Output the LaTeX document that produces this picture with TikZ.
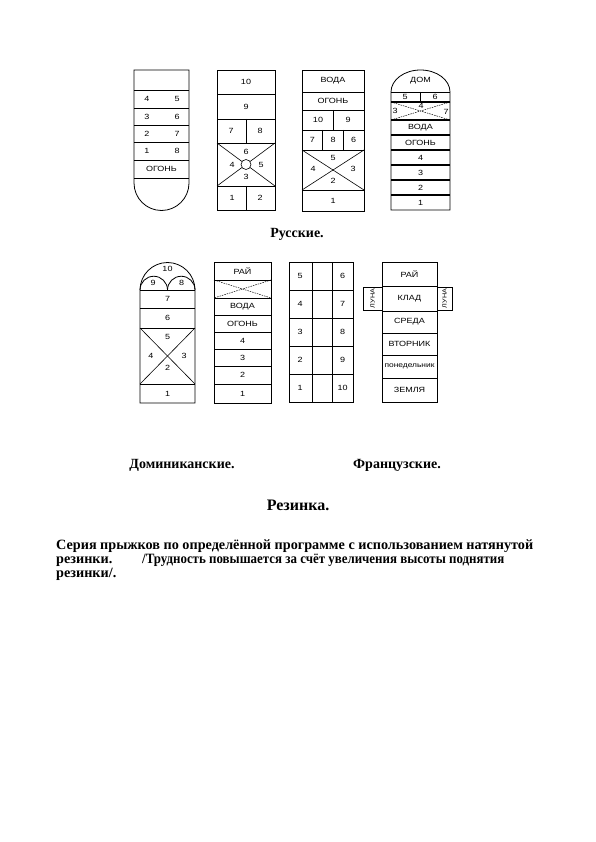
\documentclass[tikz,border=0pt]{standalone}
\usepackage{fontspec}
\setmainfont{Liberation Serif}
\newfontfamily\cellfont[FakeStretch=1.2]{Liberation Sans}
\begin{document}
\begin{tikzpicture}[x=1pt,y=-1pt,
  lab/.style={font=\cellfont\fontsize{7.5}{8}\selectfont, inner sep=0pt},
  tiny/.style={font=\cellfont\fontsize{6}{6}\selectfont, inner sep=0pt},
  ttl/.style={font=\bfseries\fontsize{14}{16}\selectfont, inner sep=0pt},
  para/.style={font=\bfseries\fontsize{14.2}{16}\selectfont, inner sep=0pt, anchor=base west},
  grid/.style={line width=0.8pt},
  thick grid/.style={line width=1.3pt},
  dashx/.style={line width=0.5pt, dash pattern=on 1.5pt off 1pt}]
\useasboundingbox (0,0) rectangle (595,842);

% ---------- Diagram 1 ----------
\draw[grid] (134,70) -- (189,70) -- (189,183) arc[start angle=0, end angle=180, radius=27.5] -- cycle;
\foreach \y in {90,108,125,142,160,178} \draw[grid] (134,\y) -- (189,\y);
\node[lab] (a45) at (147,99) {4};  \node[lab] (a5) at (177,99) {5};
\node[lab] (a3) at (147,116.5) {3}; \node[lab] (a6) at (177,116.5) {6};
\node[lab] (a2) at (147,133.5) {2}; \node[lab] (a7) at (177,133.5) {7};
\node[lab] (a1) at (147,151) {1};   \node[lab] (a8) at (177,151) {8};
\node[lab] (aog) at (161.5,169) {ОГОНЬ};

% ---------- Diagram 2 ----------
\draw[grid] (217,70) rectangle (275,210);
\foreach \y in {94,119,143,186} \draw[grid] (217,\y) -- (275,\y);
\draw[grid] (246,119) -- (246,143);
\draw[grid] (246,186) -- (246,210);
\draw[line width=0.6pt] (217,143) -- (275,186);
\draw[line width=0.6pt] (275,143) -- (217,186);
\draw[line width=0.6pt, fill=white] (246,164.5) circle[radius=5];
\node[lab] (b10) at (246,82) {10};
\node[lab] (b9) at (246,106.5) {9};
\node[lab] (b7) at (231,131) {7};
\node[lab] (b8) at (260,131) {8};
\node[lab] (b6) at (246,152) {6};
\node[lab] (b4) at (232,165) {4};
\node[lab] (b5) at (261,165) {5};
\node[lab] (b3) at (246,177) {3};
\node[lab] (b1) at (232,198) {1};
\node[lab] (b2) at (260,198) {2};

% ---------- Diagram 3 ----------
\draw[grid] (302,70) rectangle (364,211);
\foreach \y in {92,110,130,150,190} \draw[grid] (302,\y) -- (364,\y);
\draw[grid] (333,110) -- (333,130);
\draw[grid] (322.7,130) -- (322.7,150);
\draw[grid] (343.3,130) -- (343.3,150);
\draw[line width=0.6pt] (302,150) -- (364,190);
\draw[line width=0.6pt] (364,150) -- (302,190);
\node[lab] (cv) at (333,81) {ВОДА};
\node[lab] (co) at (333,100.5) {ОГОНЬ};
\node[lab] (c10) at (318,120) {10};
\node[lab] (c9) at (348,120) {9};
\node[lab] (c7) at (312.3,140) {7};
\node[lab] (c8) at (333,140) {8};
\node[lab] (c6) at (353.6,140) {6};
\node[lab] (c5) at (333,158) {5};
\node[lab] (c4) at (313,169) {4};
\node[lab] (c3) at (353,169) {3};
\node[lab] (c2) at (333,180.5) {2};
\node[lab] (c1) at (333,200.5) {1};

% ---------- Diagram 4 ----------
\draw[grid] (391,92) arc[start angle=180, end angle=360, x radius=29.5, y radius=22] -- (450,210) -- (391,210) -- cycle;
\draw[grid] (391,92) -- (450,92);
\foreach \y in {102,120,135,150,165,180,195} \draw[thick grid] (391,\y) -- (450,\y);
\draw[grid] (420,92) -- (420,102);
\draw[dashx] (391,102) -- (450,120);
\draw[dashx] (450,102) -- (391,120);
\node[lab] (dd) at (420.5,81) {ДОМ};
\node[lab] (d5) at (405,97) {5};
\node[lab] (d6) at (435,97) {6};
\node[lab] (d3) at (395,111) {3};
\node[lab] (d4t) at (421,106) {4};
\node[lab] (d7) at (446,111.5) {7};
\node[lab] (dv) at (420.5,127.5) {ВОДА};
\node[lab] (do) at (420.5,142.5) {ОГОНЬ};
\node[lab] (dn4) at (420.5,157.5) {4};
\node[lab] (dn3) at (420.5,172.5) {3};
\node[lab] (dn2) at (420.5,187.5) {2};
\node[lab] (dn1) at (420.5,202.5) {1};

\node[ttl] (t1) at (297,234) {Русские.};

% ---------- Diagram 5 ----------
\draw[grid] (140,403) -- (140,290) arc[start angle=180, end angle=360, radius=27.5] -- (195,403) -- cycle;
\draw[grid] (140,290) arc[start angle=180, end angle=360, radius=13.75];
\draw[grid] (167.5,290) arc[start angle=180, end angle=360, radius=13.75];
\foreach \y in {290,308,328,384} \draw[grid] (140,\y) -- (195,\y);
\draw[line width=0.6pt] (140,328) -- (195,384);
\draw[line width=0.6pt] (195,328) -- (140,384);
\node[lab] (e10) at (167.5,269) {10};
\node[lab] (e9) at (153,283) {9};
\node[lab] (e8) at (181.5,283) {8};
\node[lab] (e7) at (167.5,299) {7};
\node[lab] (e6) at (167.5,318) {6};
\node[lab] (e5) at (167.5,337) {5};
\node[lab] (e4) at (151,356) {4};
\node[lab] (e3) at (184,356) {3};
\node[lab] (e2) at (167.5,368) {2};
\node[lab] (e1) at (167.5,394) {1};

% ---------- Diagram 6 ----------
\draw[grid] (214,262) rectangle (271,403);
\foreach \y in {280,298,315,332,349,366,384} \draw[grid] (214,\y) -- (271,\y);
\draw[dashx] (214,280) -- (271,298);
\draw[dashx] (271,280) -- (214,298);
\node[lab] (fr) at (242.5,271) {РАЙ};
\node[lab] (fv) at (242.5,306.5) {ВОДА};
\node[lab] (fo) at (242.5,323.5) {ОГОНЬ};
\node[lab] (f4) at (242.5,340.5) {4};
\node[lab] (f3) at (242.5,357.5) {3};
\node[lab] (f2) at (242.5,375) {2};
\node[lab] (f1) at (242.5,393.5) {1};

% ---------- Diagram 7 ----------
\draw[grid] (289,262) rectangle (353,402);
\foreach \y in {290,318,346,374} \draw[grid] (289,\y) -- (353,\y);
\draw[grid] (312,262) -- (312,402);
\draw[grid] (332,262) -- (332,402);
\node[lab] (g5) at (300,276) {5};  \node[lab] (g6) at (342.5,276) {6};
\node[lab] (g4) at (300,304) {4};  \node[lab] (g7) at (342.5,304) {7};
\node[lab] (g3) at (300,332) {3};  \node[lab] (g8) at (342.5,332) {8};
\node[lab] (g2) at (300,360) {2};  \node[lab] (g9) at (342.5,360) {9};
\node[lab] (g1) at (300,388) {1};  \node[lab] (g10) at (342.5,388) {10};

% ---------- Diagram 8 ----------
\draw[grid] (382,262) rectangle (437,402);
\foreach \y in {286,311,333,355,378} \draw[grid] (382,\y) -- (437,\y);
\draw[grid] (382,287) rectangle (363,310);
\draw[grid] (437,287) rectangle (452,310);
\node[lab] (hr) at (409.5,274) {РАЙ};
\node[lab] (hk) at (409.5,298.5) {КЛАД};
\node[lab] (hs) at (409.5,322) {СРЕДА};
\node[lab] (hv) at (409.5,344) {ВТОРНИК};
\node[lab, font=\cellfont\fontsize{7}{8}\selectfont] (hp) at (409.5,366.5) {понедельник};
\node[lab] (hz) at (409.5,390) {ЗЕМЛЯ};
\node[tiny, rotate=90] (hl1) at (372.5,298.5) {ЛУНА};
\node[tiny, rotate=90] (hl2) at (444.5,298.5) {ЛУНА};

\node[ttl] (t2) at (182,465) {Доминиканские.};
\node[ttl] (t3) at (397,465) {Французские.};
\node[ttl, font=\bfseries\fontsize{16}{18}\selectfont] (t4) at (298,505) {Резинка.};

\node[para] (p1) at (56,549) {Серия прыжков по определённой программе с использованием натянутой};
\node[para] (p2) at (56,563) {резинки.};
\node[para, xscale=0.91] (p2b) at (142,563) {/Трудность повышается за счёт увеличения высоты поднятия};
\node[para] (p3) at (56,577) {резинки/.};
\end{tikzpicture}
\end{document}
